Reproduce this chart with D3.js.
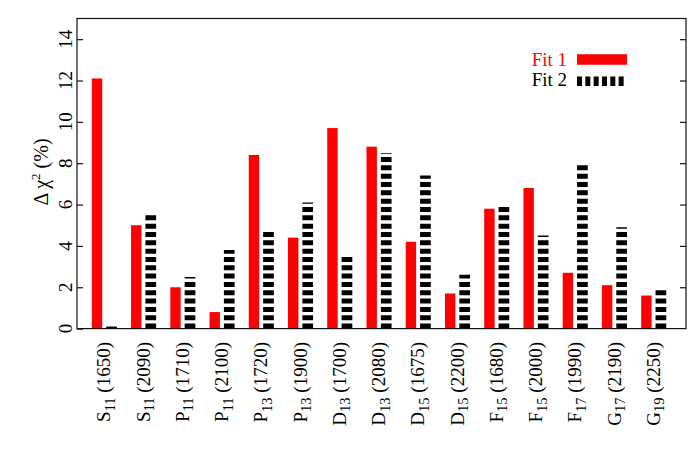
<!DOCTYPE html>
<html>
<head>
<meta charset="utf-8">
<script src="https://cdn.jsdelivr.net/npm/d3@7"></script>
<style>
  body { margin: 0; background: #fff; }
  svg text { font-family: "Liberation Serif", "DejaVu Serif", serif; }
</style>
</head>
<body>
<script>
// resonance labels: letter, subscript, mass
const waves = ["S", "S", "P", "P", "P", "P", "D", "D", "D", "D", "F", "F", "F", "G", "G"];
const subs = ["11", "11", "11", "11", "13", "13", "13", "13", "15", "15", "15", "15", "17", "17", "19"];
const masses = ["1650", "2090", "1710", "2100", "1720", "1900", "1700", "2080", "1675", "2200", "1680", "2000", "1990", "2190", "2250"];

// delta chi^2 in percent
const fit1 = [12.1, 5.0, 2.0, 0.8, 8.4, 4.4, 9.7, 8.8, 4.2, 1.7, 5.8, 6.8, 2.7, 2.1, 1.6];
const fit2 = [0.1, 5.5, 2.5, 3.8, 4.7, 6.1, 3.5, 8.5, 7.4, 2.6, 5.9, 4.5, 7.95, 4.9, 1.9];

const yTicks = [0, 2, 4, 6, 8, 10, 12, 14];

const width = 700, height = 449;
const padL = 77, padR = 686, padT = 18.5, padB = 328.6;
const fs = 19;

const svg = d3.select("body").append("svg").attr("width", width).attr("height", height);

const x = d3.scaleLinear().domain([-0.7, 14.82]).range([padL, padR]);
const y = d3.scaleLinear().domain([0, 15]).range([padB, padT]);

const barW = x(0.265) - x(0);
const idx = d3.range(waves.length);

// fit 1 bars
svg.selectAll("rect.fit1")
  .data(idx)
  .enter()
  .append("rect")
  .attr("class", "fit1")
  .attr("x", (i) => x(i - 0.19) - barW / 2)
  .attr("width", barW)
  .attr("y", (i) => y(fit1[i]))
  .attr("height", (i) => y(0) - y(fit1[i]))
  .attr("fill", "#ff0000");

// fit 2 bars: thick dashed strokes starting at the baseline
svg.selectAll("line.fit2")
  .data(idx)
  .enter()
  .append("line")
  .attr("class", "fit2")
  .attr("x1", (i) => x(i + 0.18))
  .attr("x2", (i) => x(i + 0.18))
  .attr("y1", y(0))
  .attr("y2", (i) => y(fit2[i]))
  .attr("stroke", "#000")
  .attr("stroke-width", barW + 0.3)
  .attr("stroke-dasharray", "5,3.33");

// frame
svg.append("rect")
  .attr("x", padL).attr("y", padT)
  .attr("width", padR - padL).attr("height", padB - padT)
  .attr("fill", "none").attr("stroke", "#111").attr("stroke-width", 1.2);

// y ticks (inward, both sides)
const yAxisL = d3.axisLeft(y).tickValues(yTicks).tickSize(-6).tickFormat("");
const yAxisR = d3.axisRight(y).tickValues(yTicks.slice(1)).tickSize(-6).tickFormat("");
const gl = svg.append("g").attr("transform", "translate(" + padL + ",0)").call(yAxisL);
const gr = svg.append("g").attr("transform", "translate(" + padR + ",0)").call(yAxisR);
[gl, gr].forEach((g) => {
  g.select(".domain").remove();
  g.selectAll("text").remove();
  g.selectAll("line").attr("stroke", "#111").attr("stroke-width", 1.2);
});

// rotated y tick labels
svg.selectAll("text.ytick")
  .data(yTicks)
  .enter()
  .append("text")
  .attr("class", "ytick")
  .attr("transform", (d) => "translate(72," + y(d) + ") rotate(-90)")
  .attr("text-anchor", "middle")
  .attr("font-size", fs)
  .text((d) => d);

// y axis title
const yt = svg.append("text")
  .attr("transform", "translate(48,172) rotate(-90)")
  .attr("text-anchor", "middle")
  .attr("font-size", fs + 1);
yt.append("tspan").text("\u0394 \u03c7");
yt.append("tspan").attr("font-size", 13).attr("dy", -8).text("2");
yt.append("tspan").attr("dy", 8).text(" (%)");

// x category labels
const xl = svg.selectAll("text.xlab")
  .data(idx)
  .enter()
  .append("text")
  .attr("class", "xlab")
  .attr("transform", (i) => "translate(" + (x(i) + 6) + ",342) rotate(-90)")
  .attr("text-anchor", "end")
  .attr("font-size", fs);
xl.append("tspan").text((i) => waves[i]);
xl.append("tspan").attr("font-size", 14.5).attr("dy", 4.5).text((i) => subs[i]);
xl.append("tspan").attr("dy", -4.5).text((i) => " (" + masses[i] + ")");

// legend
svg.append("text").attr("x", 567).attr("y", 66).attr("text-anchor", "end")
  .attr("font-size", fs).attr("fill", "#ff0000").text("Fit 1");
svg.append("text").attr("x", 567).attr("y", 86).attr("text-anchor", "end")
  .attr("font-size", fs).attr("fill", "#000").text("Fit 2");
svg.append("line").attr("x1", 577).attr("x2", 627).attr("y1", 59.5).attr("y2", 59.5)
  .attr("stroke", "#ff0000").attr("stroke-width", barW + 0.3);
svg.append("line").attr("x1", 577).attr("x2", 627).attr("y1", 81.3).attr("y2", 81.3)
  .attr("stroke", "#000").attr("stroke-width", barW - 1)
  .attr("stroke-dasharray", "5,3.33");
</script>
</body>
</html>
